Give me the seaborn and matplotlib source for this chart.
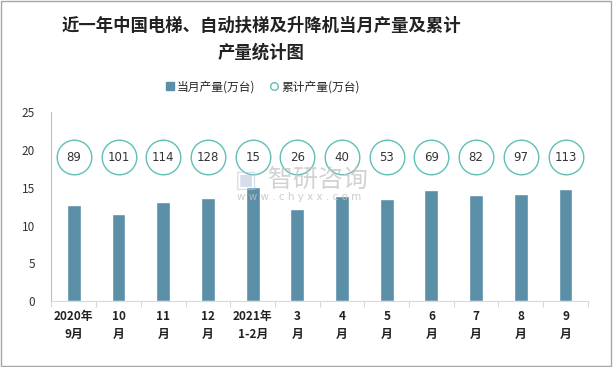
import matplotlib
matplotlib.use("Agg")
import matplotlib.pyplot as plt
from matplotlib.patches import Rectangle
from matplotlib.lines import Line2D
import seaborn as sns
import pandas as pd

# data
months = ["2020年\n9月", "10\n月", "11\n月", "12\n月", "2021年\n1-2月", "3\n月",
          "4\n月", "5\n月", "6\n月", "7\n月", "8\n月", "9\n月"]
monthly_output = [12.7, 11.5, 13.1, 13.6, 15.1, 12.2, 13.9, 13.5, 14.7, 14.0, 14.2, 14.8]
cumulative_output = [89, 101, 114, 128, 15, 26, 40, 53, 69, 82, 97, 113]
circle_level = 19  # height the cumulative bubbles sit at

bar_color = "#5B8FA8"
circle_color = "#5EC0B6"

sns.set_theme(style="white")
plt.rcParams["font.family"] = ["Noto Sans CJK SC", "DejaVu Sans"]

df = pd.DataFrame({"month": months, "value": monthly_output})

fig = plt.figure(figsize=(6.13, 3.67), dpi=100)
ax = fig.add_axes([0.084, 0.179, 0.875, 0.516])

sns.barplot(data=df, x="month", y="value", color=bar_color, width=0.31,
            saturation=1, ax=ax)

xs = list(range(len(months)))
ax.scatter(xs, [circle_level] * len(xs), s=620, facecolor="white",
           edgecolor=circle_color, linewidth=1.0, zorder=3)
for x, v in zip(xs, cumulative_output):
    ax.text(x, circle_level, str(v), ha="center", va="center", fontsize=8.5,
            color="#333333", family="DejaVu Sans", zorder=4)

ax.set_ylim(0, 25)
ax.set_xlim(-0.5, len(months) - 0.5)
ax.set_yticks([0, 5, 10, 15, 20, 25])
ax.set_xlabel("")
ax.set_ylabel("")
ax.tick_params(axis="y", length=0, labelsize=8.5, labelcolor="#333333", pad=12)
ax.tick_params(axis="x", which="major", length=0, labelsize=8.5, pad=6)
for lbl in ax.get_xticklabels():
    lbl.set_fontweight("bold")
    lbl.set_color("#222222")
    lbl.set_linespacing(1.5)
ax.set_xticks([i - 0.5 for i in range(len(months) + 1)], minor=True)
ax.tick_params(axis="x", which="minor", length=4, color="#d9d9d9", width=0.8,
               direction="out", bottom=True)

for side in ["top", "right"]:
    ax.spines[side].set_visible(False)
ax.spines["left"].set_color("#bfbfbf")
ax.spines["bottom"].set_color("#d9d9d9")
ax.spines["left"].set_linewidth(0.8)
ax.spines["bottom"].set_linewidth(0.8)

fig.text(0.426, 0.93, "近一年中国电梯、自动扶梯及升降机当月产量及累计", ha="center",
         va="center", fontsize=12.5, fontweight="bold", color="#222222")
fig.text(0.426, 0.858, "产量统计图", ha="center", va="center", fontsize=12.5,
         fontweight="bold", color="#222222")

handles = [
    Line2D([], [], marker="s", linestyle="", markersize=6, markerfacecolor=bar_color,
           markeredgecolor=bar_color, label="当月产量(万台)"),
    Line2D([], [], marker="o", linestyle="", markersize=5.5, markerfacecolor="white",
           markeredgecolor=circle_color, label="累计产量(万台)"),
]
fig.legend(handles=handles, loc="center", bbox_to_anchor=(0.427, 0.763), ncol=2,
           frameon=False, fontsize=8.5, handletextpad=0.1, columnspacing=1.1,
           handlelength=1.0)

# faint watermark
fig.text(0.437, 0.49, "智研咨询", ha="left", va="baseline", fontsize=18,
         color="#c4c4c4", alpha=0.75, zorder=0)
fig.text(0.387, 0.462, "w w w . c h y x x . c o m", ha="left", va="center",
         fontsize=7.5, color="#c4c4c4", alpha=0.85, family="DejaVu Sans")
fig.text(0.402, 0.49, "▣", ha="center", va="baseline", fontsize=17,
         color="#b8c8dc", alpha=0.6, family="DejaVu Sans")

fig.patches.append(Rectangle((0.002, 0.003), 0.995, 0.993, transform=fig.transFigure,
                             fill=False, edgecolor="#a6a6a6", linewidth=1.0))

fig.savefig("out.png", dpi=100)
